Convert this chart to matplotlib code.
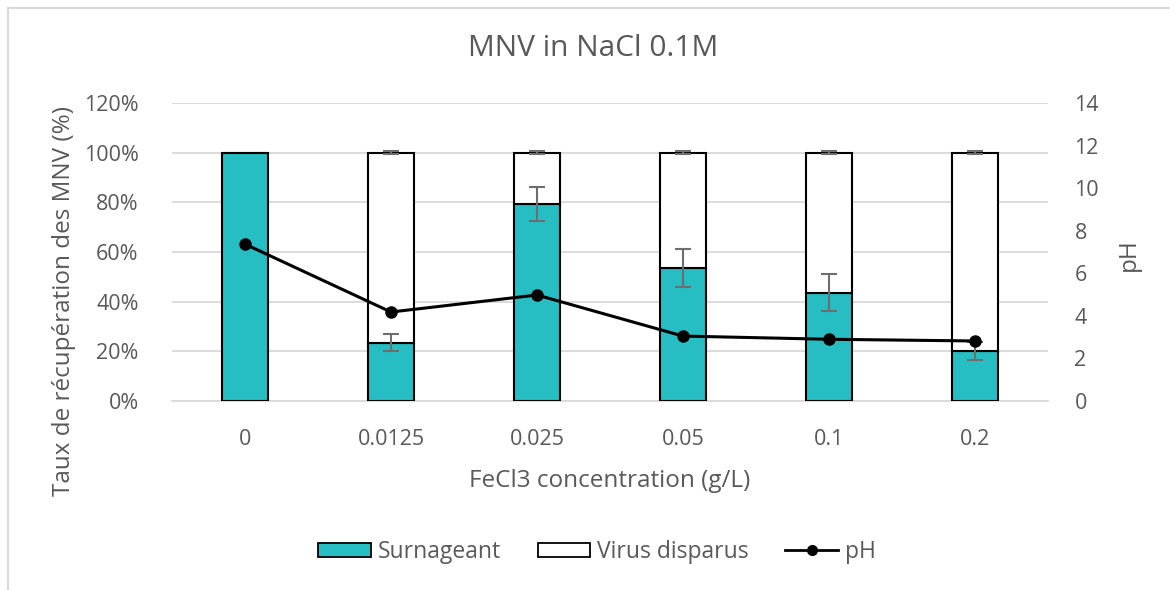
import matplotlib.pyplot as plt
from matplotlib.ticker import FuncFormatter
from matplotlib.lines import Line2D
from matplotlib.patches import Patch

plt.rcParams['font.family'] = ['Open Sans', 'DejaVu Sans']

categories = ["0", "0.0125", "0.025", "0.05", "0.1", "0.2"]
surnageant = [100, 23.5, 79.2, 53.6, 43.6, 20.2]
surnageant_err = [0, 3.4, 6.8, 7.5, 7.4, 3.6]
virus_err = [0, 0.6, 0.6, 0.6, 0.6, 0.6]
ph = [7.37, 4.18, 4.98, 3.05, 2.90, 2.82]

virus_disparus = [100 - s for s in surnageant]

teal = "#26BEC3"
text_gray = "#595959"
grid_gray = "#D9D9D9"

W, H = 1170, 590
fig = plt.figure(figsize=(W / 100, H / 100), dpi=100)
fig.patch.set_facecolor("white")

# chart-area border (top and left edges)
fig.add_artist(Line2D([8 / W, 8 / W], [0, 1 - 7.5 / H], transform=fig.transFigure,
                      color=grid_gray, linewidth=1.5))
fig.add_artist(Line2D([8 / W, 1], [1 - 7.5 / H, 1 - 7.5 / H], transform=fig.transFigure,
                      color=grid_gray, linewidth=1.5))

ax = fig.add_axes([172 / W, 1 - 401 / H, 876 / W, 298 / H])
x = list(range(len(categories)))
w = 0.31

ax.bar(x, surnageant, width=w, color=teal, edgecolor="black", linewidth=1.5, zorder=3)
ax.bar(x, virus_disparus, width=w, bottom=surnageant, color="white",
       edgecolor="black", linewidth=1.5, zorder=3)

for i in x:
    if surnageant_err[i] > 0:
        ax.errorbar(i, surnageant[i], yerr=surnageant_err[i], fmt="none",
                    ecolor="#6E6E6E", elinewidth=1.5, capsize=6, capthick=1.5, zorder=4)
    if virus_err[i] > 0:
        ax.errorbar(i, 100, yerr=virus_err[i], fmt="none",
                    ecolor="#6E6E6E", elinewidth=1.5, capsize=6, capthick=1.5, zorder=4)

ax.set_xlim(-0.5, len(categories) - 0.5)
ax.set_ylim(0, 120)
ax.set_yticks(range(0, 121, 20))
ax.yaxis.set_major_formatter(FuncFormatter(lambda v, p: f"{int(v)}%"))
ax.set_xticks(x)
ax.set_xticklabels(categories)
ax.grid(axis="y", color=grid_gray, linewidth=1.3, zorder=0)
ax.set_axisbelow(True)
for s in ["top", "right", "left"]:
    ax.spines[s].set_visible(False)
ax.spines["bottom"].set_color(grid_gray)
ax.spines["bottom"].set_linewidth(1.3)
ax.tick_params(axis="both", length=0, labelsize=15.5, colors=text_gray)
ax.tick_params(axis="y", pad=24)
ax.tick_params(axis="x", pad=20)
ax.set_xlabel("FeCl3 concentration (g/L)", fontsize=17.5, color=text_gray, labelpad=14)
ax.set_ylabel("Taux de récupération des MNV (%)", fontsize=17.5, color=text_gray)
ax.yaxis.set_label_coords(-96 / 876, 0.336)

ax2 = ax.twinx()
ax2.plot(x, ph, color="black", linewidth=2.2, marker="o", markersize=8, zorder=5)
ax2.set_ylim(0, 14)
ax2.set_yticks(range(0, 15, 2))
for s in ["top", "right", "left", "bottom"]:
    ax2.spines[s].set_visible(False)
ax2.tick_params(axis="y", length=0, labelsize=15.5, colors=text_gray, pad=19)
ax2.set_ylabel("pH", fontsize=17.5, color=text_gray, rotation=90)
ax2.yaxis.set_label_coords(1 + 69 / 876, 0.49)

fig.text(593 / W, 1 - 49 / H, "MNV in NaCl 0.1M", ha="center", va="center",
         fontsize=21.5, color=text_gray)

handles = [
    Patch(facecolor=teal, edgecolor="black", linewidth=1.3, label="Surnageant"),
    Patch(facecolor="white", edgecolor="black", linewidth=1.3, label="Virus disparus"),
    Line2D([0], [0], color="black", linewidth=2, marker="o", markersize=7, label="pH"),
]
leg = fig.legend(handles=handles, loc="center", bbox_to_anchor=(597 / W, 1 - 552 / H),
                 ncol=3, frameon=False, fontsize=16.5, handlelength=2.3, handleheight=0.6,
                 handletextpad=0.3, columnspacing=1.6)
for t in leg.get_texts():
    t.set_color(text_gray)

fig.savefig("out.png", dpi=100, facecolor="white")
